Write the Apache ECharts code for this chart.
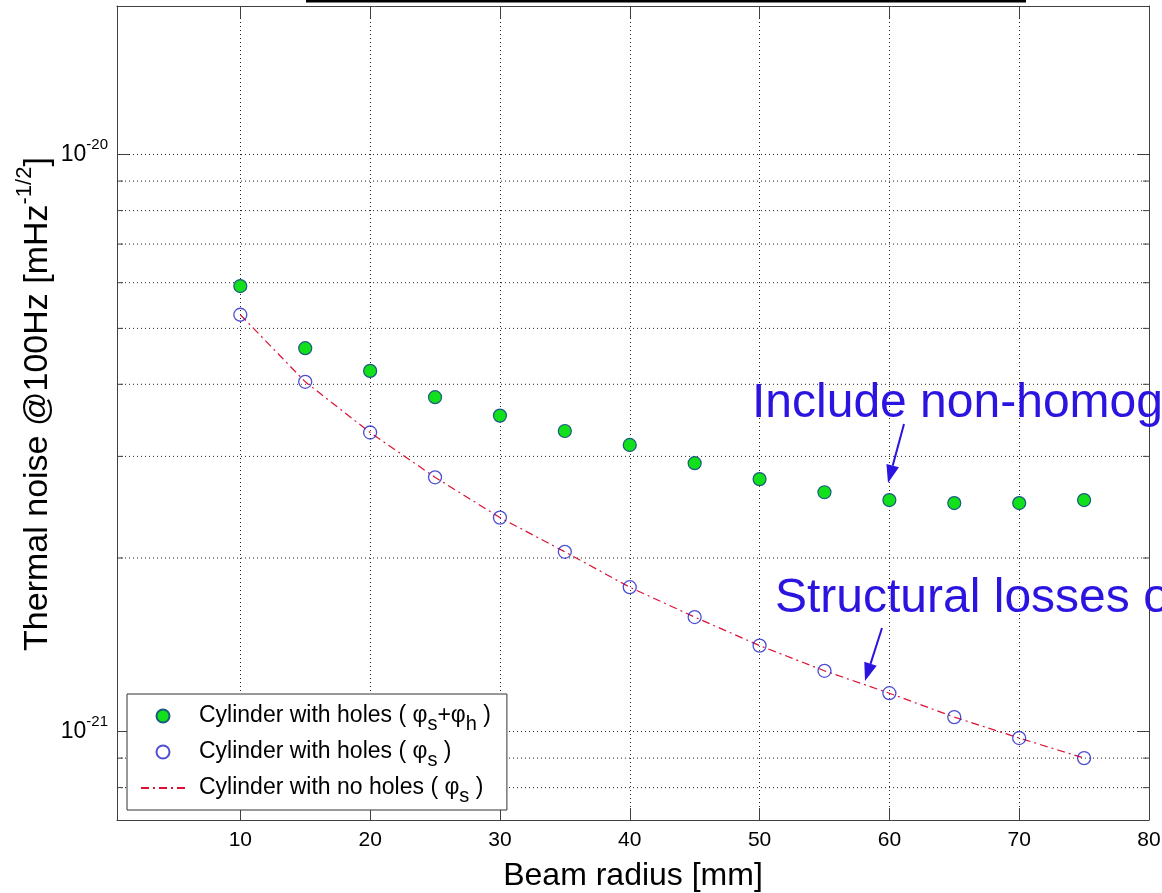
<!DOCTYPE html>
<html>
<head>
<meta charset="utf-8">
<title>Thermal noise vs beam radius</title>
<script src="https://cdn.jsdelivr.net/npm/echarts@6/dist/echarts.min.js"></script>
<style>
  html, body { margin: 0; padding: 0; background: #fff; }
  #main { width: 1162px; height: 893px; }
</style>
</head>
<body>
<div id="main"></div>
<script>
// beam radius [mm]
const radius = [10, 15, 20, 25, 30, 35, 40, 45, 50, 55, 60, 65, 70, 75];
// thermal noise @100Hz, in units of 1e-21 m/sqrt(Hz)
const holesPhiSH = [5.92, 4.62, 4.22, 3.80, 3.53, 3.32, 3.14, 2.92, 2.74, 2.60, 2.52, 2.49, 2.49, 2.52];
const holesPhiS = [5.28, 4.04, 3.30, 2.76, 2.35, 2.05, 1.78, 1.58, 1.41, 1.275, 1.166, 1.06, 0.975, 0.90];
const noHolesPhiS = [5.28, 4.04, 3.30, 2.76, 2.35, 2.05, 1.78, 1.58, 1.41, 1.275, 1.166, 1.06, 0.975, 0.90];

// ticks
const xTicks = [10, 20, 30, 40, 50, 60, 70, 80];
const yDecades = [1, 10];          // 1e-21, 1e-20
const yDecadeExp = [-21, -20];
const yMinor = [0.8, 0.9, 2, 3, 4, 5, 6, 7, 8, 9];

const names = [
  'Cylinder with holes ( φs+φh )',
  'Cylinder with holes ( φs )',
  'Cylinder with no holes ( φs )'
];
const legendText = {};
legendText[names[0]] = 'Cylinder with holes ( φ{sub|s}+φ{sub|h} )';
legendText[names[1]] = 'Cylinder with holes ( φ{sub|s} )';
legendText[names[2]] = 'Cylinder with no holes ( φ{sub|s} )';

const FONT = "'Liberation Sans', Arial, sans-serif";
const AXIS = '#404040';
const BLUE = '#2b14e0';
const X_MIN = 0.5, X_MAX = 80;
const Y_MIN = 0.703, Y_MAX = 18.1;

const myChart = echarts.init(document.getElementById('main'));

function pairs(ys) {
  return radius.map((x, i) => [x, ys[i]]);
}

// dotted minor grid + short ticks on both sides (log minor lines 2..9)
function renderMinorGrid(params, api) {
  const cs = params.coordSys;
  const y = api.coord([api.value(0), api.value(1)])[1];
  const left = cs.x, right = cs.x + cs.width;
  return {
    type: 'group',
    children: [
      { type: 'line', shape: { x1: left, y1: y, x2: right, y2: y },
        style: { stroke: '#222', lineWidth: 1, lineDash: [1, 3] } },
      { type: 'line', shape: { x1: left, y1: y, x2: left + 6, y2: y },
        style: { stroke: AXIS, lineWidth: 1 } },
      { type: 'line', shape: { x1: right - 6, y1: y, x2: right, y2: y },
        style: { stroke: AXIS, lineWidth: 1 } }
    ]
  };
}

function arrow(x1, y1, x2, y2) {
  const dx = x2 - x1, dy = y2 - y1, len = Math.hypot(dx, dy);
  const ux = dx / len, uy = dy / len;
  const hl = 18, hw = 6.5;
  const bx = x2 - ux * hl, by = y2 - uy * hl;
  return [
    { type: 'line', z: 50, shape: { x1: x1, y1: y1, x2: bx, y2: by },
      style: { stroke: BLUE, lineWidth: 2 } },
    { type: 'polygon', z: 50,
      shape: { points: [[x2, y2], [bx - uy * hw, by + ux * hw], [bx + uy * hw, by - ux * hw]] },
      style: { fill: BLUE } }
  ];
}

function yLabel(v) {
  const i = yDecades.findIndex(d => Math.abs(d - v) < 1e-6);
  if (i < 0) return '';
  return '{b|10}{s|' + yDecadeExp[i] + '}';
}

const dotted = { color: '#222', width: 1, type: [1, 3] };

const option = {
  animation: false,
  backgroundColor: '#fff',
  textStyle: { fontFamily: FONT },
  grid: { left: 117, top: 6, width: 1032, height: 814, show: false, containLabel: false, outerBoundsMode: 'none' },
  legend: {
    orient: 'vertical',
    left: 127,
    top: 694,
    data: [
      { name: names[0] },
      { name: names[1] },
      { name: names[2], itemStyle: { color: 'rgba(0,0,0,0)', borderWidth: 0 } }
    ],
    backgroundColor: '#fff',
    borderColor: '#333',
    borderWidth: 1,
    borderRadius: 0,
    padding: [4, 16, 4, 13],
    itemGap: 0,
    itemWidth: 44,
    itemHeight: 13,
    selectedMode: false,
    formatter: n => legendText[n],
    textStyle: {
      fontFamily: FONT,
      fontSize: 23,
      lineHeight: 36,
      color: '#000',
      padding: [0, 0, 0, 9],
      rich: {
        sub: { fontFamily: FONT, fontSize: 20, lineHeight: 36, verticalAlign: 'bottom', color: '#000' }
      }
    }
  },
  xAxis: [
    {
      type: 'value',
      min: X_MIN,
      max: X_MAX,
      splitNumber: 8,
      name: 'Beam radius [mm]',
      nameLocation: 'middle',
      nameGap: 40,
      nameMoveOverlap: false,
      nameTextStyle: { fontFamily: FONT, fontSize: 32, color: '#000' },
      axisLine: { show: true, lineStyle: { color: AXIS, width: 1 } },
      axisTick: { show: true, inside: true, length: 12, lineStyle: { color: AXIS } },
      axisLabel: {
        margin: 10,
        fontFamily: FONT,
        fontSize: 21,
        color: '#000',
        showMinLabel: false,
        formatter: v => (xTicks.indexOf(v) >= 0 ? String(v) : '')
      },
      splitLine: { show: true, lineStyle: dotted }
    },
    {
      type: 'value',
      position: 'top',
      min: X_MIN,
      max: X_MAX,
      splitNumber: 8,
      axisLine: { show: true, lineStyle: { color: AXIS, width: 1 } },
      axisTick: { show: true, inside: true, length: 12, lineStyle: { color: AXIS } },
      axisLabel: { show: false },
      splitLine: { show: false }
    }
  ],
  yAxis: [
    {
      type: 'log',
      logBase: 10,
      min: Y_MIN,
      max: Y_MAX,
      name: 'Thermal noise @100Hz [mHz{sup|-1/2}]',
      nameLocation: 'middle',
      nameRotate: 90,
      nameGap: 55,
      nameMoveOverlap: false,
      nameTextStyle: {
        fontFamily: FONT, fontSize: 34, lineHeight: 48, color: '#000',
        padding: [0, 0, 0, 18],
        rich: { sup: { fontFamily: FONT, fontSize: 22, lineHeight: 48, verticalAlign: 'top', color: '#000' } }
      },
      axisLine: { show: true, lineStyle: { color: AXIS, width: 1 } },
      axisTick: { show: true, inside: true, length: 12, lineStyle: { color: AXIS } },
      axisLabel: {
        margin: 9,
        showMinLabel: false,
        showMaxLabel: false,
        formatter: yLabel,
        rich: {
          b: { fontFamily: FONT, fontSize: 23, lineHeight: 34, color: '#000' },
          s: { fontFamily: FONT, fontSize: 15, lineHeight: 34, verticalAlign: 'top', color: '#000' }
        }
      },
      splitLine: { show: true, lineStyle: dotted }
    },
    {
      type: 'log',
      logBase: 10,
      position: 'right',
      min: Y_MIN,
      max: Y_MAX,
      axisLine: { show: true, lineStyle: { color: AXIS, width: 1 } },
      axisTick: { show: true, inside: true, length: 12, lineStyle: { color: AXIS } },
      axisLabel: { show: false },
      splitLine: { show: false }
    }
  ],
  series: [
    {
      name: 'minor grid',
      type: 'custom',
      silent: true,
      z: 1,
      xAxisIndex: 0,
      yAxisIndex: 0,
      renderItem: renderMinorGrid,
      data: yMinor.map(v => [X_MIN, v])
    },
    {
      name: names[2],
      type: 'line',
      xAxisIndex: 0,
      yAxisIndex: 0,
      z: 2,
      symbol: 'none',
      data: pairs(noHolesPhiS),
      lineStyle: { color: '#dd1133', width: 1.2, type: [8, 4, 2, 4] },
      itemStyle: { color: '#dd1133' }
    },
    {
      name: names[1],
      type: 'scatter',
      xAxisIndex: 0,
      yAxisIndex: 0,
      z: 3,
      symbol: 'circle',
      symbolSize: 13,
      data: pairs(holesPhiS),
      itemStyle: { color: 'rgba(255,255,255,0)', borderColor: '#2222c8', borderWidth: 1.3 }
    },
    {
      name: names[0],
      type: 'scatter',
      xAxisIndex: 0,
      yAxisIndex: 0,
      z: 3,
      symbol: 'circle',
      symbolSize: 13,
      data: pairs(holesPhiSH),
      itemStyle: { color: '#12e01a', borderColor: '#1c5a80', borderWidth: 1.2, opacity: 1 }
    }
  ],
  graphic: [
    { type: 'rect', z: 50, shape: { x: 306, y: 0, width: 720, height: 2.5 }, style: { fill: '#000' } },
    { type: 'text', z: 50, x: 752, y: 404,
      style: { text: 'Include non-homog', fill: BLUE, fontFamily: FONT, fontSize: 48, verticalAlign: 'middle' } },
    { type: 'text', z: 50, x: 775, y: 599,
      style: { text: 'Structural losses o', fill: BLUE, fontFamily: FONT, fontSize: 48, verticalAlign: 'middle' } }
  ]
    .concat(arrow(904, 424, 888, 483))
    .concat(arrow(882, 628, 865, 681))
};

myChart.setOption(option);
</script>
</body>
</html>
